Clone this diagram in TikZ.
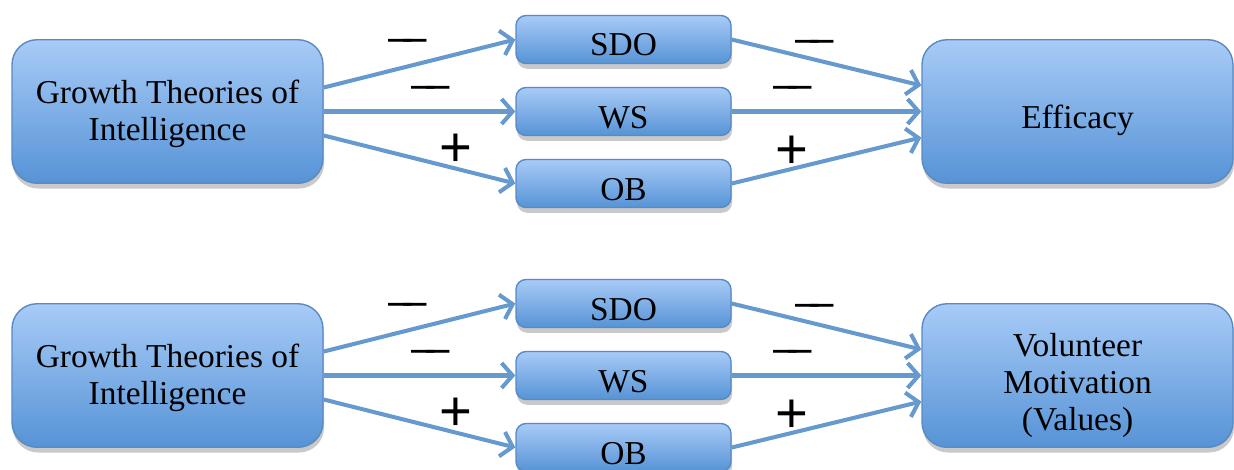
\documentclass[tikz,border=0pt]{standalone}
\usepackage{fontspec}
\setmainfont{Liberation Serif}
\newfontfamily\signfont{Liberation Sans}
\usepackage{tikz}
\usetikzlibrary{arrows.meta,shadows,positioning}
\definecolor{boxtop}{RGB}{168,203,247}
\definecolor{boxbot}{RGB}{86,147,214}
\definecolor{boxline}{RGB}{88,138,196}
\definecolor{arrowblue}{RGB}{102,153,206}
\newcommand{\dneg}{{\fontsize{24}{24}\selectfont –\kern-0.2em–}}

\begin{document}
\begin{tikzpicture}[node distance=1.44cm and 9.12cm, on grid, >={Straight Barb[length=0.22cm,width=0.5cm]},
        every box/.style={draw=boxline, line width=0.8pt, top color=boxtop, bottom color=boxbot,
            drop shadow={shadow xshift=0.6pt, shadow yshift=-3pt, opacity=0.3, fill=black!70},
            align=center, font=\fontsize{19}{21}\selectfont, inner sep=0pt, text depth=0cm},
        bigbox/.style={every box, minimum width=6.22cm, minimum height=2.87cm, rounded corners=0.5cm},
        smallbox/.style={every box, minimum width=4.3cm, minimum height=0.96cm, rounded corners=0.2cm, text height=0.66cm},
        arrow/.style={->, line width=2.3pt, every edge/.style={draw=arrowblue}},
        sign/.style={font=\signfont\fontsize{32}{32}\selectfont, inner sep=0pt}]
        \useasboundingbox (0,0) rectangle (24.68,-9.38);
                \node[bigbox,text height=1.14cm] (grow_1) at (3.35,-2.23)        {Growth Theories of\\Intelligence};
                \node[smallbox] (ws_1)   [right=9.12cm of grow_1] {WS};
                \node[smallbox] (sdo_1)  [above=of ws_1]          {SDO};
                \node[smallbox] (ob_1)   [below=of ws_1]          {OB};
                \node[bigbox,text height=0.68cm] (out_1)  [right=9.08cm of ws_1]   {Efficacy};

                \node[bigbox,text height=1.14cm] (grow_2) [below=5.28cm of grow_1] {Growth Theories of\\Intelligence};
                \node[smallbox] (ws_2)   [right=9.12cm of grow_2] {WS};
                \node[smallbox] (sdo_2)  [above=of ws_2]          {SDO};
                \node[smallbox] (ob_2)   [below=of ws_2]          {OB};
                \node[bigbox,text height=2.2cm] (out_2)  [right=9.08cm of ws_2]   {Volunteer\\Motivation\\(Values)};

            \foreach \i in {1,2}{
            \path[arrow] ([yshift=0.48cm]grow_\i.east) edge node[sign,pos=0.44,yshift=0.42cm]  {\dneg} (sdo_\i.west)
                         (grow_\i.east)                edge node[sign,pos=0.56,yshift=0.38cm] {\dneg} (ws_\i.west)
                         ([yshift=-0.48cm]grow_\i.east) edge node[sign,pos=0.69,yshift=0.36cm] {+} (ob_\i.west);
            \path[arrow] (sdo_\i.east) edge node[sign,pos=0.44,yshift=0.27cm] {\dneg} ([yshift=0.52cm]out_\i.west)
                         (ws_\i.east)  edge node[sign,pos=0.32,yshift=0.38cm] {\dneg} (out_\i.west)
                         (ob_\i.east)  edge node[sign,pos=0.32,yshift=0.33cm] {+} ([yshift=-0.52cm]out_\i.west);
            }
        	\end{tikzpicture}
\end{document}
